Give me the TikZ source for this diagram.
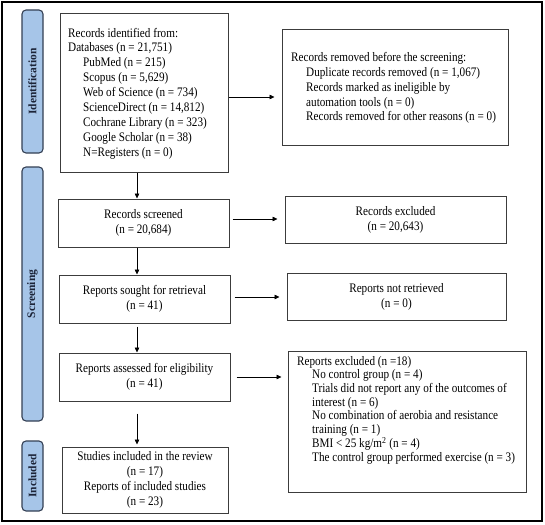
\documentclass[tikz,border=0pt]{standalone}
\usepackage{fontspec}
\setmainfont{Liberation Serif}
\newfontfamily\boxfont{Liberation Serif}[FakeStretch=0.86]
\usetikzlibrary{arrows.meta,calc}
\definecolor{sidefill}{RGB}{166,197,232}
\definecolor{sidedraw}{RGB}{52,64,84}
\definecolor{sidetext}{RGB}{28,36,56}
\definecolor{boxdraw}{RGB}{60,60,60}
\tikzset{
  box/.style={draw=boxdraw, line width=1pt, inner ysep=0pt, font=\boxfont\fontsize{13}{14.9}\selectfont},
  cbox/.style={box, align=center},
  ltext/.style={anchor=west, align=left, inner sep=0pt, font=\boxfont\fontsize{13}{14.9}\selectfont},
  side/.style={draw=sidedraw, fill=sidefill, line width=1.1pt, rounded corners=4pt, minimum width=21pt},
  sidelab/.style={rotate=90, font=\fontsize{11.5}{12}\selectfont\bfseries, text=sidetext},
  arr/.style={-{Triangle[length=5pt,width=4.5pt]}, line width=0.7pt, black},
}
\newcommand{\ind}{\hspace*{15pt}}
\begin{document}
\begin{tikzpicture}[x=1pt,y=-1pt]
\useasboundingbox (0,0) rectangle (545,524);
\fill[white] (0,0) rectangle (545,524);
\draw[line width=1.4pt] (2,2) rectangle (542,521);
% side labels
\node[side, minimum height=143pt] (sid) at (32.5,81.5) {};
\node[sidelab] (sidt) at (sid.center) {Identification};
\node[side, minimum height=254pt] (sscr) at (32.5,294) {};
\node[sidelab] (sscrt) at (sscr.center) {Screening};
\node[side, minimum height=70pt] (sinc) at (32.5,476) {};
\node[sidelab] (sinct) at (sinc.center) {Included};
% boxes
\node[box, minimum width=168pt, minimum height=158pt] (ident) at (144,93) {};
\node[ltext] (identt) at (68,93.5) {Records identified from:\\
Databases (n = 21,751)\\
\ind PubMed (n = 215)\\
\ind Scopus (n = 5,629)\\
\ind Web of Science (n = 734)\\
\ind ScienceDirect (n = 14,812)\\
\ind Cochrane Library (n = 323)\\
\ind Google Scholar (n = 38)\\
\ind N=Registers (n = 0)};
\node[box, minimum width=226pt, minimum height=115pt] (removed) at (395,87.5) {};
\node[ltext] (removedt) at (291,88) {Records removed before the screening:\\
\ind Duplicate records removed (n = 1,067)\\
\ind Records marked as ineligible by\\
\ind automation tools (n = 0)\\
\ind Records removed for other reasons (n = 0)};
\node[cbox, minimum width=171pt, minimum height=48pt] (screened) at (143.5,223) {Records screened\\(n = 20,684)};
\node[cbox, minimum width=221pt, minimum height=47pt] (excl) at (395.5,219.5) {Records excluded\\(n = 20,643)};
\node[cbox, minimum width=171pt, minimum height=48pt] (sought) at (144.5,299) {Reports sought for retrieval\\(n = 41)};
\node[cbox, minimum width=219pt, minimum height=47pt] (notret) at (396.5,296.5) {Reports not retrieved\\(n = 0)};
\node[cbox, minimum width=171pt, minimum height=48pt] (assessed) at (144.5,377) {Reports assessed for eligibility\\(n = 41)};
\node[box, minimum width=238pt, minimum height=141pt] (repexcl) at (407,421.5) {};
\node[ltext, font=\boxfont\fontsize{13}{13.7}\selectfont] (repexclt) at (297,410) {Reports excluded (n =18)\\
\ind No control group (n = 4)\\
\ind Trials did not report any of the outcomes of\\
\ind interest (n = 6)\\
\ind No combination of aerobia and resistance\\
\ind training (n = 1)\\
\ind BMI < 25 kg/m\textsuperscript{2} (n = 4)\\
\ind The control group performed exercise (n = 3)};
\node[cbox, minimum width=166pt, minimum height=66pt] (incl) at (145,480) {Studies included in the review\\(n = 17)\\Reports of included studies\\(n = 23)};
% arrows
\coordinate (vx) at (137,0);
\draw[arr] (ident.south -| vx) -- (screened.north -| vx);
\draw[arr] (screened.south -| vx) -- (sought.north -| vx);
\draw[arr] ([yshift=-3pt]sought.south -| vx) -- (assessed.north -| vx);
\draw[arr] ([yshift=-12pt]assessed.south -| vx) -- ([yshift=2pt]incl.north -| vx);
\draw[arr, shorten >=7pt] ([yshift=-4pt]ident.east) -- ([yshift=-4pt]ident.east -| removed.west);
\draw[arr, shorten >=7pt] ([xshift=3pt,yshift=4pt]screened.east) -- ([yshift=4pt]screened.east -| excl.west);
\draw[arr, shorten >=7pt] ([xshift=4pt,yshift=2pt]sought.east) -- ([yshift=2pt]sought.east -| notret.west);
\draw[arr, shorten >=6pt] ([xshift=6pt]assessed.east) -- (assessed.east -| repexcl.west);
\end{tikzpicture}
\end{document}
